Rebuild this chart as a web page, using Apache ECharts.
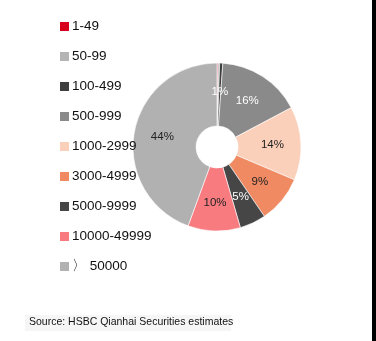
<!DOCTYPE html>
<html>
<head>
<meta charset="utf-8">
<script src="https://cdn.jsdelivr.net/npm/echarts@6/dist/echarts.min.js"></script>
<style>
html,body{margin:0;padding:0;background:#fff;}
#chart{width:376px;height:341px;}
</style>
</head>
<body>
<div id="chart"></div>
<script>
var categories = ['1-49','50-99','100-499','500-999','1000-2999','3000-4999','5000-9999','10000-49999','〉 50000'];
var shares = [0.2, 0.3, 0.6, 16, 14, 9, 5, 10, 44];
var colors = ['#d9001b','#b4b4b4','#3e3e3e','#8a8a8a','#fbd0ba','#ef8a62','#464646','#f87b80','#b1b1b1'];
var labelColors = ['#ffffff','#333333','#ffffff','#ffffff','#222222','#222222','#ffffff','#222222','#222222'];
var sourceText = 'Source: HSBC Qianhai Securities estimates';

var FONT = '"Liberation Sans", Arial, sans-serif';

var pieData = categories.map(function (c, i) {
  return {
    name: c,
    value: shares[i],
    itemStyle: { color: colors[i] },
    label: { color: labelColors[i] }
  };
});

var chart = echarts.init(document.getElementById('chart'), null, { renderer: 'canvas' });
chart.setOption({
  backgroundColor: '#ffffff',
  animation: false,
  legend: {
    orient: 'vertical',
    left: 60,
    top: 19,
    padding: 0,
    itemWidth: 9,
    itemHeight: 9,
    itemGap: 15,
    icon: 'rect',
    selectedMode: false,
    itemStyle: { borderWidth: 0 },
    data: categories,
    textStyle: {
      fontFamily: FONT,
      fontSize: 13.5,
      lineHeight: 15,
      color: '#111111',
      padding: [0, 0, 0, -2]
    }
  },
  graphic: [
    { type: 'rect', shape: { x: 372, y: 0, width: 4, height: 341 }, style: { fill: '#000000' } },
    { type: 'rect', shape: { x: 25, y: 315, width: 206, height: 16 }, style: { fill: '#f6f6f6' } },
    { type: 'text', left: 29, top: 317, style: { text: sourceText, font: '10.5px ' + FONT, fill: '#111111' } }
  ],
  series: [{
    type: 'pie',
    center: [217, 147],
    radius: [21, 84],
    startAngle: 90,
    clockwise: true,
    avoidLabelOverlap: false,
    itemStyle: { borderColor: '#ffffff', borderWidth: 0.6 },
    label: {
      show: true,
      position: 'inside',
      fontFamily: FONT,
      fontSize: 11.5,
      formatter: function (p) { return Math.round(p.value) + '%'; }
    },
    labelLine: { show: false },
    emphasis: { disabled: true },
    data: pieData
  }]
});
</script>
</body>
</html>
